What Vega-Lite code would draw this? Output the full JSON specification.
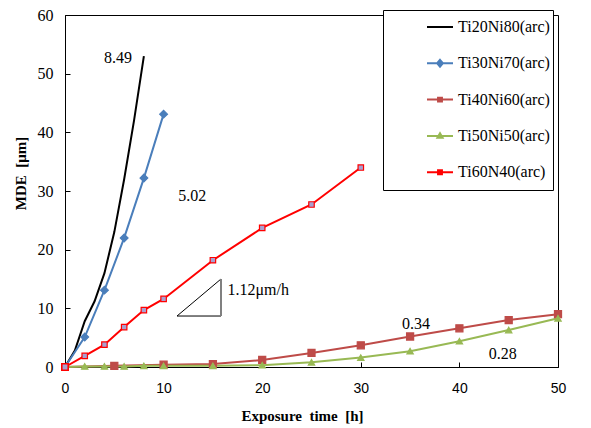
{
  "$schema": "https://vega.github.io/schema/vega-lite/v6.json",
  "width": 493,
  "height": 352,
  "autosize": "none",
  "padding": {"left": 65, "top": 15, "right": 33, "bottom": 61},
  "background": "white",
  "config": {
    "view": {"stroke": "black", "strokeWidth": 1},
    "axis": {
      "grid": false,
      "domainColor": "black",
      "tickColor": "black",
      "labelColor": "black",
      "titleColor": "black",
      "tickSize": -5,
      "labelFlush": false,
      "titleFont": "Liberation Serif",
      "titleFontWeight": "bold",
      "titleFontSize": 15
    }
  },
  "datasets": {
    "series": [
      {"s": "Ti20Ni80(arc)", "x": 0, "y": 0},
      {"s": "Ti20Ni80(arc)", "x": 1, "y": 2.8},
      {"s": "Ti20Ni80(arc)", "x": 2, "y": 7.8},
      {"s": "Ti20Ni80(arc)", "x": 3, "y": 11.2},
      {"s": "Ti20Ni80(arc)", "x": 4, "y": 16},
      {"s": "Ti20Ni80(arc)", "x": 5, "y": 23},
      {"s": "Ti20Ni80(arc)", "x": 6, "y": 32},
      {"s": "Ti20Ni80(arc)", "x": 7, "y": 42},
      {"s": "Ti20Ni80(arc)", "x": 8, "y": 53},
      {"s": "Ti30Ni70(arc)", "x": 0, "y": 0},
      {"s": "Ti30Ni70(arc)", "x": 2, "y": 5.1},
      {"s": "Ti30Ni70(arc)", "x": 4, "y": 13.1},
      {"s": "Ti30Ni70(arc)", "x": 6, "y": 22},
      {"s": "Ti30Ni70(arc)", "x": 8, "y": 32.2},
      {"s": "Ti30Ni70(arc)", "x": 10, "y": 43.1},
      {"s": "Ti40Ni60(arc)", "x": 0, "y": 0},
      {"s": "Ti40Ni60(arc)", "x": 5, "y": 0.2},
      {"s": "Ti40Ni60(arc)", "x": 10, "y": 0.4},
      {"s": "Ti40Ni60(arc)", "x": 15, "y": 0.5},
      {"s": "Ti40Ni60(arc)", "x": 20, "y": 1.2},
      {"s": "Ti40Ni60(arc)", "x": 25, "y": 2.4},
      {"s": "Ti40Ni60(arc)", "x": 30, "y": 3.7},
      {"s": "Ti40Ni60(arc)", "x": 35, "y": 5.2},
      {"s": "Ti40Ni60(arc)", "x": 40, "y": 6.6},
      {"s": "Ti40Ni60(arc)", "x": 45, "y": 8.0},
      {"s": "Ti40Ni60(arc)", "x": 50, "y": 9.0},
      {"s": "Ti50Ni50(arc)", "x": 0, "y": 0},
      {"s": "Ti50Ni50(arc)", "x": 2, "y": 0.1},
      {"s": "Ti50Ni50(arc)", "x": 4, "y": 0.1},
      {"s": "Ti50Ni50(arc)", "x": 6, "y": 0.1},
      {"s": "Ti50Ni50(arc)", "x": 8, "y": 0.2},
      {"s": "Ti50Ni50(arc)", "x": 10, "y": 0.2},
      {"s": "Ti50Ni50(arc)", "x": 15, "y": 0.2},
      {"s": "Ti50Ni50(arc)", "x": 20, "y": 0.3},
      {"s": "Ti50Ni50(arc)", "x": 25, "y": 0.8},
      {"s": "Ti50Ni50(arc)", "x": 30, "y": 1.6},
      {"s": "Ti50Ni50(arc)", "x": 35, "y": 2.7},
      {"s": "Ti50Ni50(arc)", "x": 40, "y": 4.4},
      {"s": "Ti50Ni50(arc)", "x": 45, "y": 6.3},
      {"s": "Ti50Ni50(arc)", "x": 50, "y": 8.3},
      {"s": "Ti60N40(arc)", "x": 0, "y": 0},
      {"s": "Ti60N40(arc)", "x": 2, "y": 1.9},
      {"s": "Ti60N40(arc)", "x": 4, "y": 3.8},
      {"s": "Ti60N40(arc)", "x": 6, "y": 6.8},
      {"s": "Ti60N40(arc)", "x": 8, "y": 9.7},
      {"s": "Ti60N40(arc)", "x": 10, "y": 11.6},
      {"s": "Ti60N40(arc)", "x": 15, "y": 18.2},
      {"s": "Ti60N40(arc)", "x": 20, "y": 23.7},
      {"s": "Ti60N40(arc)", "x": 25, "y": 27.7},
      {"s": "Ti60N40(arc)", "x": 30, "y": 34}
    ],
    "notes": [
      {"t": "8.49", "x": 5.37, "y": 52.7},
      {"t": "5.02", "x": 12.9, "y": 29.1},
      {"t": "1.12μm/h", "x": 19.6, "y": 13.1},
      {"t": "0.34", "x": 35.6, "y": 7.3},
      {"t": "0.28", "x": 44.4, "y": 2.2}
    ],
    "tri": [
      {"edge": "hyp", "x": 11.36, "y": 8.69, "x2": 15.82, "y2": 15.0},
      {"edge": "base", "x": 11.36, "y": 8.69, "x2": 15.82, "y2": 8.69},
      {"edge": "vert", "x": 15.82, "y": 8.69, "x2": 15.82, "y2": 15.0}
    ]
  },
  "layer": [
    {
      "data": {"name": "tri"},
      "transform": [{"filter": "datum.edge !== 'vert'"}],
      "mark": {"type": "rule", "color": "black", "strokeWidth": 1},
      "encoding": {
        "x": {"field": "x", "type": "quantitative"},
        "y": {"field": "y", "type": "quantitative"},
        "x2": {"field": "x2"},
        "y2": {"field": "y2"}
      }
    },
    {
      "data": {"name": "tri"},
      "transform": [{"filter": "datum.edge === 'vert'"}],
      "mark": {"type": "rule", "color": "#808080", "strokeWidth": 2},
      "encoding": {
        "x": {"field": "x", "type": "quantitative"},
        "y": {"field": "y", "type": "quantitative"},
        "x2": {"field": "x2"},
        "y2": {"field": "y2"}
      }
    },
    {
      "data": {"name": "series"},
      "mark": {"type": "line", "strokeWidth": 2},
      "encoding": {
        "x": {
          "field": "x", "type": "quantitative",
          "scale": {"domain": [0, 50], "nice": false},
          "axis": {
            "values": [0, 10, 20, 30, 40, 50],
            "title": "Exposure\u00a0 time\u00a0 [h]",
            "labelFont": "Liberation Sans",
            "labelFontSize": 14,
            "labelPadding": 19,
            "titleX": 237,
            "titleY": 48,
            "titleBaseline": "middle"
          }
        },
        "y": {
          "field": "y", "type": "quantitative",
          "scale": {"domain": [0, 60], "nice": false},
          "axis": {
            "values": [0, 10, 20, 30, 40, 50, 60],
            "title": "MDE\u00a0 [μm]",
            "labelFont": "Liberation Serif",
            "labelFontSize": 16,
            "labelPadding": 17,
            "titleX": -45,
            "titleY": 158,
            "titleBaseline": "middle"
          }
        },
        "color": {
          "field": "s", "type": "nominal",
          "scale": {
            "domain": ["Ti20Ni80(arc)", "Ti30Ni70(arc)", "Ti40Ni60(arc)", "Ti50Ni50(arc)", "Ti60N40(arc)"],
            "range": ["#000000", "#4a7ebb", "#be4b48", "#98b954", "#ff0000"]
          },
          "legend": {
            "title": "\u00a0",
            "titleOrient": "bottom",
            "titleFontSize": 5,
            "titlePadding": 2,
            "orient": "none",
            "legendX": 318,
            "legendY": -5,
            "padding": 3,
            "strokeColor": "black",
            "fillColor": "white",
            "symbolSize": 676,
            "symbolStrokeWidth": 2,
            "symbolOffset": 40,
            "labelOffset": 4,
            "rowPadding": 14.3,
            "labelFont": "Liberation Serif",
            "labelFontSize": 16,
            "labelColor": "black",
            "labelLimit": 400,
            "labelExpr": "datum.label + '\u00a0\u00a0\u00a0\u00a0\u00a0\u00a0\u00a0\u00a0\u00a0\u00a0\u00a0\u00a0\u00a0\u00a0\u00a0'",
            "encode": {
              "symbols": {
                "update": {
                  "shape": {"signal": "datum.value === 'Ti20Ni80(arc)' ? 'M-1,0L1,0' : datum.value === 'Ti30Ni70(arc)' ? 'M-1,0L1,0M0,-0.26L0.22,0L0,0.26L-0.22,0Z' : datum.value === 'Ti50Ni50(arc)' ? 'M-1,0L1,0M0,-0.2L0.2,0.15L-0.2,0.15Z' : 'M-1,0L1,0M-0.15,-0.15L0.15,-0.15L0.15,0.15L-0.15,0.15Z'"},
                  "fill": {"signal": "datum.value === 'Ti30Ni70(arc)' ? '#4a7ebb' : datum.value === 'Ti40Ni60(arc)' ? '#be4b48' : datum.value === 'Ti50Ni50(arc)' ? '#98b954' : datum.value === 'Ti60N40(arc)' ? '#a8a0d0' : 'transparent'"},
                  "strokeWidth": {"value": 2}
                }
              }
            }
          }
        }
      }
    },
    {
      "data": {"name": "series"},
      "transform": [{"filter": "datum.s !== 'Ti20Ni80(arc)' && datum.x > 0"}],
      "mark": {"type": "point", "opacity": 1, "strokeWidth": 1.2},
      "encoding": {
        "x": {"field": "x", "type": "quantitative"},
        "y": {"field": "y", "type": "quantitative"},
        "shape": {
          "field": "s", "type": "nominal",
          "scale": {
            "domain": ["Ti30Ni70(arc)", "Ti40Ni60(arc)", "Ti50Ni50(arc)", "Ti60N40(arc)"],
            "range": ["diamond", "square", "triangle-up", "square"]
          },
          "legend": null
        },
        "size": {
          "field": "s", "type": "nominal",
          "scale": {
            "domain": ["Ti30Ni70(arc)", "Ti40Ni60(arc)", "Ti50Ni50(arc)", "Ti60N40(arc)"],
            "range": [60, 30, 28, 30]
          },
          "legend": null
        },
        "fill": {
          "field": "s", "type": "nominal",
          "scale": {
            "domain": ["Ti30Ni70(arc)", "Ti40Ni60(arc)", "Ti50Ni50(arc)", "Ti60N40(arc)"],
            "range": ["#4a7ebb", "#be4b48", "#98b954", "#a8a0d0"]
          },
          "legend": null
        },
        "stroke": {
          "field": "s", "type": "nominal",
          "scale": {
            "domain": ["Ti30Ni70(arc)", "Ti40Ni60(arc)", "Ti50Ni50(arc)", "Ti60N40(arc)"],
            "range": ["#4a7ebb", "#be4b48", "#98b954", "#ff0000"]
          },
          "legend": null
        }
      }
    },
    {
      "data": {"name": "series"},
      "transform": [{"filter": "datum.x === 0 && (datum.s === 'Ti30Ni70(arc)' || datum.s === 'Ti60N40(arc)')"}],
      "mark": {"type": "point", "opacity": 1, "strokeWidth": 1.5, "shape": "square", "size": 40, "fill": "#a8a0d0", "stroke": "#ff0000"},
      "encoding": {
        "x": {"field": "x", "type": "quantitative"},
        "y": {"field": "y", "type": "quantitative"}
      }
    },
    {
      "data": {"name": "notes"},
      "mark": {"type": "text", "font": "Liberation Serif", "fontSize": 16, "color": "black", "align": "center", "baseline": "middle"},
      "encoding": {
        "x": {"field": "x", "type": "quantitative"},
        "y": {"field": "y", "type": "quantitative"},
        "text": {"field": "t"}
      }
    }
  ]
}
